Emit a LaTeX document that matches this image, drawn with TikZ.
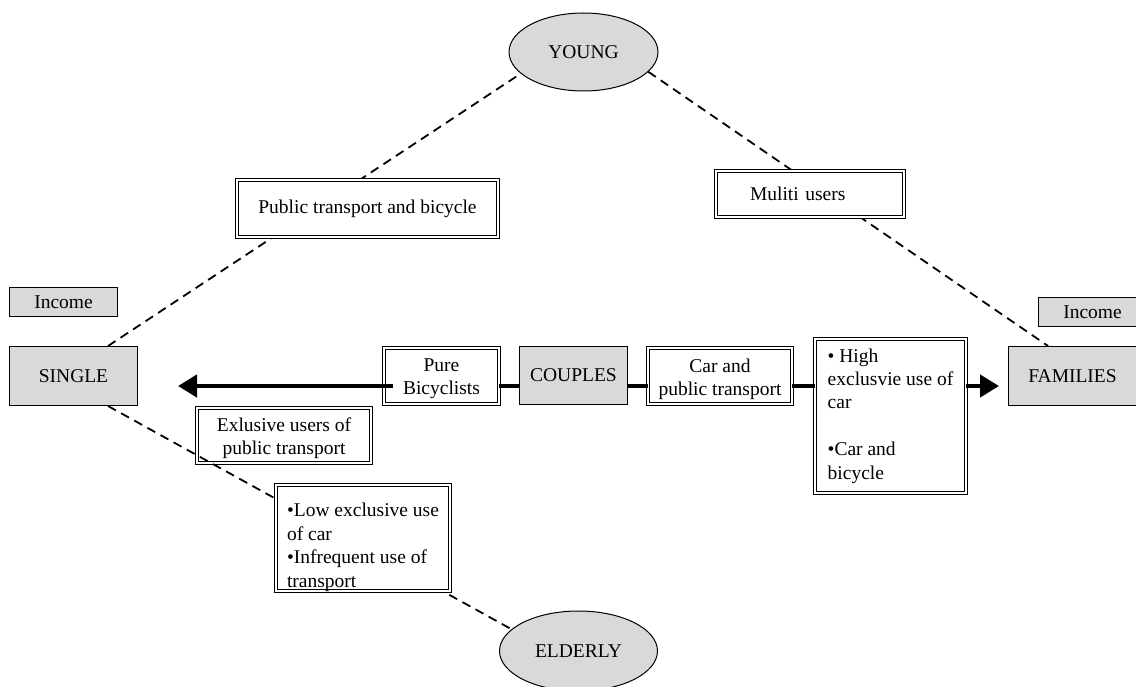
\documentclass[tikz,border=0pt]{standalone}
\usepackage{fontspec}
\setmainfont{Liberation Serif}
\usetikzlibrary{arrows.meta,shapes.geometric}
\definecolor{panelgray}{RGB}{217,217,217}
% invisible rule that sets the height of a first text line
\newcommand\tallstrut[1]{\rule{0pt}{#1}}

\begin{document}
\begin{tikzpicture}[x=1pt,y=-1pt,
  every node/.style={font=\fontsize{19.5}{23.4}\selectfont, inner xsep=4pt, inner ysep=0pt},
  graybox/.style={rectangle, draw=black, line width=1pt, fill=panelgray},
  dblbox/.style={rectangle, draw=black, fill=white, line width=1pt, double=white, double distance=2.2pt},
  agegroup/.style={ellipse, draw=black, line width=1pt, fill=panelgray, inner sep=0pt},
  link/.style={line width=1.8pt, dash pattern=on 9pt off 6pt},
  axisline/.style={line width=4.5pt},
  bigtip/.style={-{Triangle[length=19pt,width=22pt]}}
]
\path[use as bounding box, fill=white] (0,0) rectangle (1136,687);

% life-cycle stages
\node[agegroup, minimum width=149pt, minimum height=78pt] (young) at (583.5,52) {YOUNG};
\node[agegroup, minimum width=158pt, minimum height=80pt] (elderly) at (578.5,651) {ELDERLY};
\node[graybox, minimum width=128pt, minimum height=59pt] (single) at (73.5,376) {SINGLE};
\node[graybox, minimum width=128pt, minimum height=59pt] (families) at (1072.5,376) {FAMILIES};
\node[graybox, minimum width=108pt, minimum height=58pt] (couples) at (573.5,375.5) {COUPLES};
\node[graybox, minimum width=108pt, minimum height=29pt] (incomeL) at (63.5,302) {Income};
\node[graybox, minimum width=108pt, minimum height=29pt] (incomeR) at (1092.5,312) {Income};

% travel behaviour boxes on the central axis
\node[dblbox, minimum width=114.8pt, minimum height=55.8pt, align=center] (pure) at (441.5,376)
  {\tallstrut{18pt}Pure\\Bicyclists};
\node[dblbox, minimum width=143.8pt, minimum height=55.8pt, align=center] (carpt) at (720,376)
  {\tallstrut{20pt}Car and\\public transport};
\node[dblbox, minimum width=150.8pt, minimum height=153.8pt, align=left] (high) at (890.5,416)
  {• High\\exclusvie use of\\car\\[23.4pt]•Car and\\bicycle};
\node[dblbox, minimum width=173.8pt, minimum height=54.8pt, align=center] (exclpt) at (284,435.5)
  {\tallstrut{19pt}Exlusive users of\\public transport};

% dashed links between the stages
\draw[link] ([xshift=34.5pt]single.north) -- (young.199);
\draw[link] (young.343) -- ([xshift=-24.5pt]families.north);
\draw[link] ([xshift=34.5pt]single.south) -- (elderly.162);

% boxes lying on the dashed links
\node[dblbox, minimum width=260.8pt, minimum height=56.8pt] (pubbike) at (367.5,208.5)
  {Public transport and bicycle};
\node[dblbox, minimum height=45.8pt, text width=120pt, inner xsep=34pt, align=left] (multi) at (810,194)
  {Muliti users};
\node[dblbox, minimum width=173.8pt, minimum height=105.8pt, align=left] (lowcar) at (363,538)
  {\tallstrut{32pt}•Low exclusive use\\of car\\•Infrequent use of\\transport};

% household axis
\coordinate (tipL) at (178,386);
\coordinate (tipR) at (999,386);
\draw[axisline, bigtip, shorten <=-9pt] (pure.west |- tipL) -- (tipL);
\draw[axisline] (pure.east |- tipL) -- (couples.west |- tipL);
\draw[axisline] (couples.east |- tipL) -- (carpt.west |- tipL);
\draw[axisline] (carpt.east |- tipL) -- (high.west |- tipL);
\draw[axisline, bigtip] (high.east |- tipR) -- (tipR);
\end{tikzpicture}
\end{document}
